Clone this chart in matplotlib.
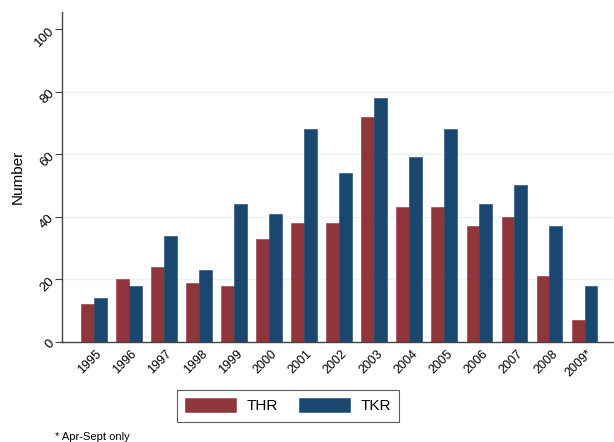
import matplotlib
matplotlib.use("Agg")
import matplotlib.pyplot as plt
import numpy as np

plt.rcParams['font.family'] = ['Liberation Sans', 'DejaVu Sans']

years = ['1995', '1996', '1997', '1998', '1999', '2000', '2001', '2002',
         '2003', '2004', '2005', '2006', '2007', '2008', '2009*']
thr = [12, 20, 24, 19, 18, 33, 38, 38, 72, 43, 43, 37, 40, 21, 7]
tkr = [14, 18, 34, 23, 44, 41, 68, 54, 78, 59, 68, 44, 50, 37, 18]

c_thr = '#90353B'
c_tkr = '#1A476F'

fig = plt.figure(figsize=(6.14, 4.42), dpi=100)
ax = fig.add_axes([62 / 614, 1 - 342 / 442, 1 - 62 / 614, 330 / 442])

x = np.arange(len(years))
w = 0.366
ax.bar(x - w / 2, thr, w, color=c_thr, edgecolor=c_thr, linewidth=0.4, label='THR', zorder=2)
ax.bar(x + w / 2, tkr, w, color=c_tkr, edgecolor=c_tkr, linewidth=0.4, label='TKR', zorder=2)

ax.set_xlim(-0.905, 14.84)
ax.set_ylim(0, 105.4)
ax.set_yticks([0, 20, 40, 60, 80, 100])
for g in [20, 40, 60, 80]:
    ax.axhline(g, color='#EAF2F3', linewidth=1.0, zorder=1)

ax.set_xticks(x + 0.06)
ax.set_xticklabels(years, rotation=45, ha='right', rotation_mode='anchor', fontsize=9)
ax.tick_params(axis='x', length=0, pad=4)
ax.tick_params(axis='y', length=5, width=0.8, color='#444444', labelsize=9.5, pad=2)
for lab in ax.get_yticklabels():
    lab.set_rotation(45)
    lab.set_ha('right')
    lab.set_va('center')
    lab.set_rotation_mode('anchor')

for s in ['top', 'right']:
    ax.spines[s].set_visible(False)
for s in ['left', 'bottom']:
    ax.spines[s].set_color('#444444')
    ax.spines[s].set_linewidth(1.0)

ax.set_ylabel('Number', fontsize=11, labelpad=5.5)

leg = fig.legend(loc='center', bbox_to_anchor=(288 / 614, 1 - 405.7 / 442), ncol=2,
                 fontsize=11, handlelength=3.3, handleheight=1.0, columnspacing=1.4,
                 handletextpad=0.7, frameon=True, fancybox=False, borderpad=0.55)
leg.get_frame().set_edgecolor('#333333')
leg.get_frame().set_linewidth(0.8)

fig.text(55 / 614, 1 - 437 / 442, '* Apr-Sept only', fontsize=8, va='center', ha='left')

fig.savefig('out.png', dpi=100)
